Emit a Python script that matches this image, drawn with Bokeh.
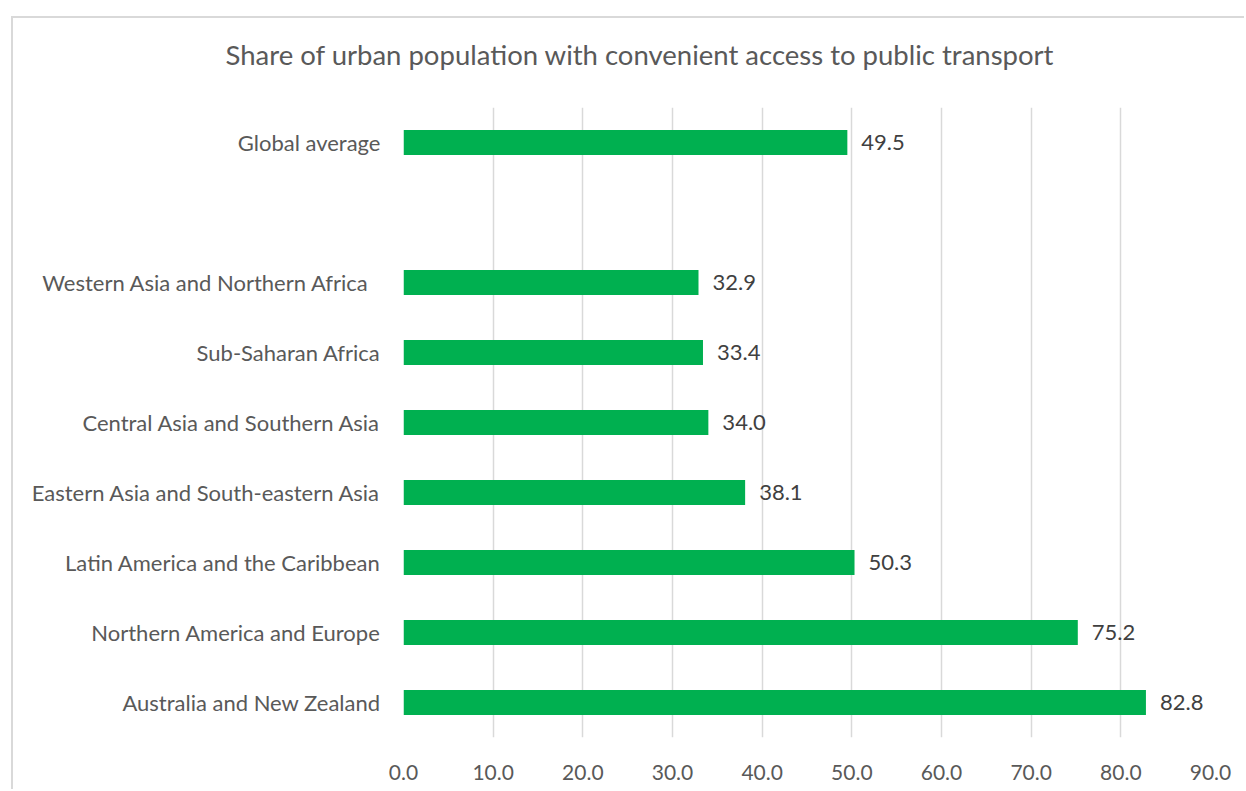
from bokeh.plotting import figure
from bokeh.models import FactorRange, Range1d, FixedTicker, NumeralTickFormatter, ColumnDataSource, Title
from bokeh.core.properties import value
from bokeh.embed import file_html
from bokeh.resources import INLINE

title = "Share of urban population with convenient access to public transport"

# top-to-bottom as displayed (" " is the empty gap row)
categories = [
    "Global average",
    " ",
    "Western Asia  and Northern Africa ",
    "Sub-Saharan Africa",
    "Central Asia and Southern Asia",
    "Eastern Asia and South-eastern Asia",
    "Latin America and the Caribbean",
    "Northern America and Europe",
    "Australia and New Zealand",
]
bar_categories = [c for c in categories if c.strip()]
bar_values = [49.5, 32.9, 33.4, 34.0, 38.1, 50.3, 75.2, 82.8]
x_ticks = [0, 10, 20, 30, 40, 50, 60, 70, 80, 90]

FONT = "Lato"
GREEN = "#00B050"

source = ColumnDataSource(dict(
    cat=bar_categories,
    val=bar_values,
    lab=[f"{v:.1f}" for v in bar_values],
))

p = figure(
    width=1233, height=773,
    y_range=FactorRange(factors=list(reversed(categories)), range_padding=0),
    x_range=Range1d(x_ticks[0], x_ticks[-1]),
    output_backend="svg", toolbar_location=None,
    min_border_left=390, min_border_right=36, min_border_top=89, min_border_bottom=54,
)
p.margin = (16, 0, 0, 11)
p.styles = {"border-left": "2px solid #d9d9d9", "border-top": "2px solid #d9d9d9"}
p.outline_line_color = None
p.background_fill_color = "white"
p.border_fill_color = "white"

# invisible spacer panel between the frame and the title
p.add_layout(Title(text=" ", text_font_size="1px", standoff=34), "above")
p.add_layout(Title(text=title, align="left", offset=-178, standoff=0,
                   text_font=FONT, text_font_size="27.5px", text_font_style="normal",
                   text_color="#595959"), "above")

p.hbar(y="cat", right="val", left=0, height=0.36, source=source,
       fill_color=GREEN, line_color=None)

p.text(x="val", y="cat", text="lab", source=source, x_offset=14,
       text_baseline="middle", text_align="left",
       text_font=value(FONT), text_font_size="22px", text_color="#404040")

# grid
p.ygrid.grid_line_color = None
p.xgrid.ticker = FixedTicker(ticks=x_ticks)
p.xgrid.grid_line_color = "#d9d9d9"
p.xgrid.grid_line_width = 1.5

# x axis
p.xaxis.ticker = FixedTicker(ticks=x_ticks)
p.xaxis.formatter = NumeralTickFormatter(format="0.0")
p.xaxis.axis_line_color = None
p.xaxis.major_tick_line_color = None
p.xaxis.minor_tick_line_color = None
p.xaxis.major_label_standoff = 21
p.xaxis.major_label_text_font = FONT
p.xaxis.major_label_text_font_size = "21px"
p.xaxis.major_label_text_color = "#595959"

# y axis
p.yaxis.axis_line_color = None
p.yaxis.major_tick_line_color = None
p.yaxis.minor_tick_line_color = None
p.yaxis.major_label_standoff = 17
p.yaxis.major_label_text_font = FONT
p.yaxis.major_label_text_font_size = "22px"
p.yaxis.major_label_text_color = "#595959"

open("out.html", "w").write(file_html(p, INLINE))
